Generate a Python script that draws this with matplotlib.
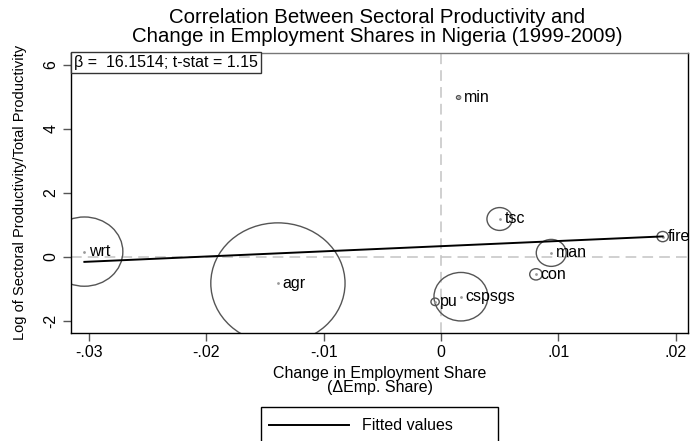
import matplotlib
matplotlib.use("Agg")
import matplotlib.pyplot as plt
import numpy as np
from matplotlib.path import Path
from matplotlib.patches import Rectangle
from matplotlib.lines import Line2D

plt.rcParams["font.family"] = ["Liberation Sans", "DejaVu Sans"]

# sector data
sectors = ["wrt", "agr", "min", "tsc", "fire", "man", "con", "cspsgs", "pu"]
d_emp_share = [-0.0304, -0.0139, 0.0015, 0.0050, 0.0189, 0.0094, 0.0081, 0.0017, -0.0005]
log_rel_prod = [0.16, -0.83, 4.98, 1.18, 0.63, 0.12, -0.55, -1.25, -1.41]
emp_weight = [20.6, 62.7, 0.06, 2.24, 0.45, 3.12, 0.55, 10.1, 0.24]  # bubble weights (% of employment)

fit_beta = 16.1514
fit_const = 0.33
fit_tstat = 1.15

xticks = [-0.03, -0.02, -0.01, 0, 0.01, 0.02]
xticklabels = ["-.03", "-.02", "-.01", "0", ".01", ".02"]
yticks = [-2, 0, 2, 4, 6]

x = np.array(d_emp_share)
y = np.array(log_rel_prod)
w = np.array(emp_weight)

fig = plt.figure(figsize=(6.9, 4.41), dpi=100)
ax = fig.add_axes([0.1029, 0.246, 0.8949, 0.633])

# slightly flattened circle marker (the original image is squeezed vertically)
uc = Path.unit_circle()
oval = Path(uc.vertices * np.array([1.0, 0.9]), uc.codes)

ax.axvline(0, color="#c4c4c4", lw=1.1, ls=(0, (7, 4)), zorder=1)
ax.axhline(0, color="#c4c4c4", lw=1.1, ls=(0, (7, 4)), zorder=1)

ax.scatter(x, y, s=w * 149, marker=oval, facecolors="none",
           edgecolors="#555555", linewidths=1.0, zorder=2)
ax.scatter(x, y, s=4, color="#999999", linewidths=0, zorder=3)
for xi, yi, lab in zip(x, y, sectors):
    ax.annotate(lab, (xi, yi), xytext=(3.5, 0), textcoords="offset points",
                fontsize=11.5, va="center", ha="left", zorder=4)

xs = np.array([x.min(), x.max()])
ax.plot(xs, fit_const + fit_beta * xs, color="black", lw=1.4, zorder=3)

ax.set_xlim(-0.03154, 0.0211)
ax.set_ylim(-2.37, 6.36)
ax.set_xticks(xticks)
ax.set_xticklabels(xticklabels, fontsize=11.5)
ax.set_yticks(yticks)
ax.set_yticklabels([str(t) for t in yticks], fontsize=11.5, rotation=90, va="center")
ax.tick_params(direction="out", length=6, width=1, color="#555555", pad=3)

for side in ["left", "bottom", "right"]:
    ax.spines[side].set_color("black")
    ax.spines[side].set_linewidth(1.0)
ax.spines["top"].set_color("#777777")
ax.spines["top"].set_linewidth(1.0)

ax.set_xlabel("Change in Employment Share\n(\u0394Emp. Share)", fontsize=11.5,
              labelpad=4, linespacing=0.95)
ax.set_ylabel("Log of Sectoral Productivity/Total Productivity", fontsize=10.5, labelpad=12)

fig.text(0.5465, 1 - 27 / 441, "Correlation Between Sectoral Productivity and\n"
         "Change in Employment Shares in Nigeria (1999-2009)",
         ha="center", va="center", fontsize=14.7, linespacing=0.95)

ax.text(0.0045, 0.993, "\u03b2 =  %.4f; t-stat = %.2f" % (fit_beta, fit_tstat),
        transform=ax.transAxes, ha="left", va="top", fontsize=11.5,
        bbox=dict(boxstyle="square,pad=0.18", fc="white", ec="#333333", lw=1.0))

# legend box below the axes
fig.add_artist(Rectangle((261 / 690, -0.01), 237 / 690, 1 - 407 / 441 + 0.01,
                         transform=fig.transFigure, fill=False, ec="black", lw=1.0))
fig.add_artist(Line2D([269 / 690, 349 / 690], [1 - 425 / 441] * 2,
                      transform=fig.transFigure, color="black", lw=1.4))
fig.text(362 / 690, 1 - 425 / 441, "Fitted values", ha="left", va="center", fontsize=11.5)

fig.savefig("out.png", dpi=100)
